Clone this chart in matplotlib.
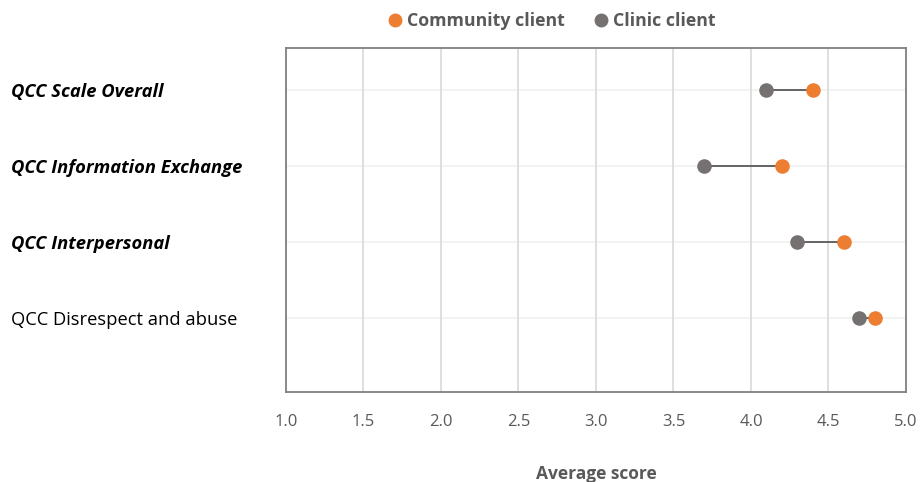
import matplotlib.pyplot as plt
from matplotlib.lines import Line2D

categories = ["QCC Scale Overall", "QCC Information Exchange", "QCC Interpersonal", "QCC Disrespect and abuse"]
community = [4.4, 4.2, 4.6, 4.8]
clinic = [4.1, 3.7, 4.3, 4.7]
emphasised = [True, True, True, False]
xticks = [1.0, 1.5, 2.0, 2.5, 3.0, 3.5, 4.0, 4.5, 5.0]

orange = "#ED7D31"
grey = "#767171"
textgrey = "#595959"

plt.rcParams['font.family'] = ['Open Sans', 'DejaVu Sans']

fig = plt.figure(figsize=(9.21, 4.82), dpi=100)
ax = fig.add_axes([0.3105, 0.1867, 0.6732, 0.7137])

pos = list(range(len(categories)))
for y, a, b in zip(pos, clinic, community):
    ax.plot([a, b], [y, y], color=textgrey, lw=1.3, zorder=2)
ax.scatter(clinic, pos, s=110, color=grey, zorder=3, linewidths=0)
ax.scatter(community, pos, s=110, color=orange, zorder=3, linewidths=0)

ax.set_xlim(1.0, 5.0)
ax.set_ylim(3.974, -0.553)
ax.set_xticks(xticks)
ax.set_xticklabels([f"{v:.1f}" for v in xticks], color=textgrey, fontsize=12)
ax.tick_params(axis='x', length=0, pad=16)

ax.set_yticks(pos)
ax.set_yticklabels(categories, fontsize=13.2, color="black")
for lab, emph in zip(ax.get_yticklabels(), emphasised):
    lab.set_ha('left')
    if emph:
        lab.set_fontweight('bold')
        lab.set_fontstyle('italic')
ax.tick_params(axis='y', length=0, pad=198)

ax.grid(axis='x', color="#d9d9d9", lw=1.2, zorder=0)
for y in pos:
    ax.axhline(y, color="#f0f0f0", lw=1.2, zorder=0)
for s in ax.spines.values():
    s.set_color("#808080")
    s.set_linewidth(1.3)

ax.set_xlabel("Average score", fontsize=12.5, fontweight='bold', color=textgrey, labelpad=25)

handles = [
    Line2D([], [], ls='none', marker='o', ms=9, color=orange),
    Line2D([], [], ls='none', marker='o', ms=9, color=grey),
]
fig.legend(handles, ["Community client", "Clinic client"], loc='center',
           bbox_to_anchor=(551 / 921, 1 - 21 / 482), ncol=2, frameon=False,
           handletextpad=0.2, columnspacing=1.5, handlelength=1.0,
           prop={'weight': 'bold', 'size': 12.8}, labelcolor=textgrey)

fig.savefig("out.png", dpi=100)
